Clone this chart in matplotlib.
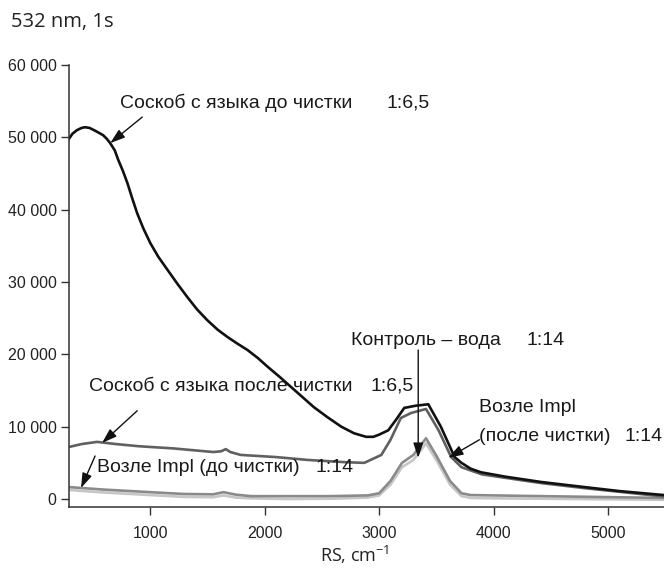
import matplotlib.pyplot as plt
import numpy as np

# Raman spectra, 532 nm, 1 s
x_before = [290, 320, 360, 400, 430, 470, 520, 588, 620, 650, 690, 720, 760, 800,
            840, 886, 940, 1000, 1070, 1150, 1240, 1325, 1410, 1500, 1590, 1675,
            1760, 1850, 1940, 2025, 2130, 2230, 2330, 2430, 2550, 2670, 2780, 2886,
            2950, 3000, 3080, 3150, 3220, 3320, 3430, 3540, 3660, 3720, 3800, 3890,
            4100, 4420, 4770, 5100, 5490]
y_before = [49800, 50500, 51000, 51300, 51400, 51300, 50900, 50300, 49800, 49200,
            48200, 46900, 45400, 43700, 41700, 39500, 37400, 35400, 33500, 31700,
            29700, 27900, 26200, 24700, 23400, 22400, 21500, 20600, 19500, 18300,
            16900, 15500, 14100, 12700, 11300, 10000, 9100, 8600, 8600, 8900, 9500,
            11000, 12600, 12900, 13100, 10000, 5800, 5000, 4200, 3700, 3100, 2350,
            1700, 1100, 550]

x_after = [290, 400, 535, 700, 900, 1200, 1550, 1620, 1660, 1700, 1790, 2100, 2380,
           2700, 2870, 3020, 3100, 3190, 3280, 3410, 3520, 3630, 3720, 3900, 4420,
           4800, 5490]
y_after = [7200, 7600, 7900, 7600, 7300, 7000, 6500, 6600, 6900, 6500, 6100, 5800,
           5400, 5100, 5000, 6100, 8200, 11200, 11900, 12450, 9500, 5800, 4400, 3400,
           2200, 1500, 350]

x_impl = [290, 600, 1000, 1290, 1550, 1640, 1750, 1880, 2200, 2580, 2900, 3000,
          3100, 3200, 3300, 3410, 3500, 3620, 3720, 3800, 4000, 5490]
y_impl = [1650, 1300, 950, 700, 650, 950, 600, 400, 400, 400, 500, 800, 2500, 5000,
          6100, 8400, 6000, 2500, 800, 550, 500, 150]

x_water = [290, 600, 1000, 1290, 1550, 1640, 1750, 1880, 2200, 2600, 2900, 3000,
           3100, 3200, 3300, 3410, 3500, 3620, 3720, 3800, 4000, 5490]
y_water = [1250, 900, 550, 300, 250, 500, 200, 100, 0, 50, 200, 500, 2000, 4400,
           5400, 7700, 5400, 2000, 400, 150, 100, -100]

yticks = [0, 10000, 20000, 30000, 40000, 50000, 60000]
ytick_labels = ['0', '10 000', '20 000', '30 000', '40 000', '50 000', '60 000']
xticks = [1000, 2000, 3000, 4000, 5000]

label_font = 'Liberation Sans'

fig = plt.figure(figsize=(6.64, 5.78), dpi=100)
ax = fig.add_axes([69 / 664, 1 - 507 / 578, 1 - 69 / 664, (507 - 65) / 578])

ax.plot(x_water, y_water, color='#c6c6c6', lw=1.9, solid_joinstyle='round')
ax.plot(x_impl, y_impl, color='#8a8a8a', lw=1.9, solid_joinstyle='round')
ax.plot(x_after, y_after, color='#606060', lw=1.9, solid_joinstyle='round')
ax.plot(x_before, y_before, color='#111111', lw=1.9, solid_joinstyle='round')

ax.set_xlim(290, 5490)
ax.set_ylim(-1100, 60000)

for s in ['top', 'right']:
    ax.spines[s].set_visible(False)
for s in ['left', 'bottom']:
    ax.spines[s].set_color('#333333')
    ax.spines[s].set_linewidth(1.1)

ax.set_yticks(yticks)
ax.set_yticklabels(ytick_labels, fontname=label_font, fontsize=11.5, color='#222222')
ax.set_xticks(xticks)
ax.set_xticklabels([str(t) for t in xticks], fontname=label_font, fontsize=11.5,
                   color='#222222')
ax.tick_params(axis='both', direction='out', length=6, width=1.0, color='#333333')
ax.tick_params(axis='x', pad=8)
ax.tick_params(axis='y', pad=3)

# title and axis label
fig.text(11 / 664, 1 - 22 / 578, '532 nm, 1s', fontname='Open Sans', fontsize=14.5,
         va='center', ha='left', color='#222222')
fig.text(355 / 664, 1 - 555 / 578, r'RS, cm$^{\mathregular{-1}}$', fontname='Open Sans',
         fontsize=13, va='center', ha='center', color='#222222')

tk = dict(fontname=label_font, fontsize=14, color='#1a1a1a', va='center', ha='left')
arrow = dict(arrowstyle='-|>,head_length=0.9,head_width=0.3', color='#111111',
             lw=1.0, shrinkA=0, shrinkB=0)

# Соскоб с языка до чистки
ax.text(737, 54800, 'Соскоб с языка до чистки', **tk)
ax.text(3061, 54800, '1:6,5', **tk)
ax.annotate('', xy=(650, 49200), xytext=(930, 52800), arrowprops=arrow)

# Контроль – вода
ax.text(2754, 21850, 'Контроль – вода', **tk)
ax.text(4289, 21850, '1:14', **tk)
ax.annotate('', xy=(3342, 5700), xytext=(3342, 20600), arrowprops=arrow)

# Соскоб с языка после чистки
ax.text(465, 15600, 'Соскоб с языка после чистки', **tk)
ax.text(2929, 15600, '1:6,5', **tk)
ax.annotate('', xy=(579, 7750), xytext=(886, 12200), arrowprops=arrow)

# Возле Impl (до чистки)
ax.text(535, 4300, 'Возле Impl (до чистки)', **tk)
ax.text(2447, 4300, '1:14', **tk)
ax.annotate('', xy=(395, 1520), xytext=(518, 5950), arrowprops=arrow)

# Возле Impl (после чистки)
ax.text(3877, 12700, 'Возле Impl', **tk)
ax.text(3877, 8600, '(после чистки)', **tk)
ax.text(5475, 8600, '1:14', **{**tk, 'ha': 'right'})
ax.annotate('', xy=(3605, 5700), xytext=(3877, 8200), arrowprops=arrow)

fig.savefig('out.png', dpi=100)
